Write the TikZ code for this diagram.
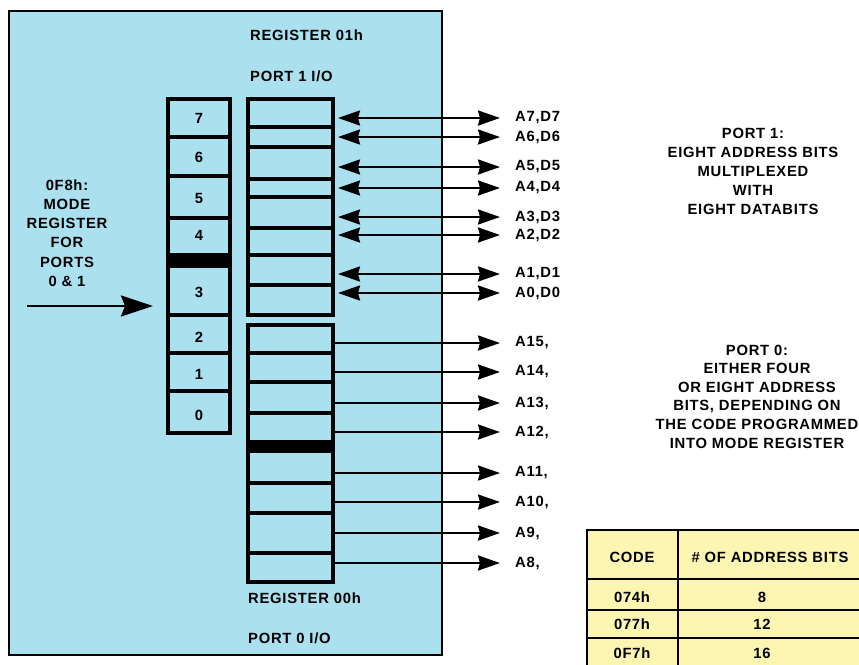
\documentclass[tikz,border=0pt]{standalone}
\usepackage{fontspec}
\setmainfont{Liberation Sans}[LetterSpace=5]
\usetikzlibrary{arrows.meta, positioning}
\definecolor{panelblue}{HTML}{ABE1EE}
\definecolor{tableyellow}{HTML}{FCF6B2}
\tikzset{
   lbl/.style={font=\fontsize{14.8}{19.2}\selectfont\bfseries, inner sep=0pt},
   regbox/.style={line width=3.4pt},
   bus/.style={line width=2.3pt},
   bustip/.tip={Stealth[length=22pt,width=15pt,inset=2pt]},
   bigtip/.tip={Stealth[length=32pt,width=21pt,inset=4pt]}
}
\begin{document}
\begin{tikzpicture}[x=1pt, y=-1pt]
   \useasboundingbox (0,0) rectangle (859,664);
   % Panel
   \draw[line width=2.8pt, fill=panelblue] (9,11) rectangle (442,655);
   \node[lbl, anchor=west] (reg01) at (250,35) {REGISTER 01h};
   \node[lbl, anchor=west] (port1io) at (250,76) {PORT 1 I/O};
   \node[lbl, anchor=west] (reg00) at (248,598) {REGISTER 00h};
   \node[lbl, anchor=west] (port0io) at (248,638) {PORT 0 I/O};
   % Mode register (bits 7..0)
   \draw[regbox] (168,99) rectangle (230,433);
   \foreach \y in {137,176,218,315,353,391}
      \draw[regbox] (168,\y) -- (230,\y);
   \fill (168,253) rectangle (230,268);
   \foreach \y/\b in {118/7,157/6,198/5,235/4,292/3,337/2,374/1,415/0}
      \node[lbl] (bit\b) at (199,\y) {\b};
   \node[lbl, align=center] (modetxt) at (67,233)
      {0F8h:\\MODE\\REGISTER\\FOR\\PORTS\\0 \& 1};
   \coordinate (modein) at (27,306);
   \coordinate (modetip) at (153,306);
   \draw[line width=2.6pt, -bigtip] (modein) -- (modetip);
   % Port 1 register
   \draw[regbox] (248,99) rectangle (333,315);
   \foreach \y in {127,147,179,197,228,255,285}
      \draw[regbox] (248,\y) -- (333,\y);
   % Port 0 register
   \draw[regbox] (248,325) rectangle (333,582);
   \foreach \y in {353,382,413,483,513,553}
      \draw[regbox] (248,\y) -- (333,\y);
   \fill (248,440) rectangle (333,453);
   % Port 1 lines (both ways)
   \foreach \y/\n in {118/7,137/6,167/5,188/4,217/3,235/2,274/1,293/0} {
      \coordinate (hi\n) at (333,\y);
      \node[lbl, anchor=west] (ad\n) at (515,\y) {A\n,D\n};
      \draw[bus, bustip-bustip, shorten <=5pt, shorten >=15pt] (hi\n) -- (ad\n.west);
   }
   % Port 0 lines (out)
   \foreach \y/\n in {343/15,372/14,403/13,432/12,473/11,502/10,533/9,563/8} {
      \coordinate (lo\n) at (333,\y);
      \node[lbl, anchor=west] (a\n) at (515,\y) {A\n,};
      \draw[bus, -bustip, shorten >=15pt] (lo\n) -- (a\n.west);
   }
   % Notes
   \node[lbl, align=center] (port1txt) at (753,171.5)
      {PORT 1:\\EIGHT ADDRESS BITS\\MULTIPLEXED\\WITH\\EIGHT DATABITS};
   \node[lbl, align=center, font=\fontsize{14.8}{18.6}\selectfont\bfseries] (port0txt) at (757,396.5)
      {PORT 0:\\EITHER FOUR\\OR EIGHT ADDRESS\\BITS, DEPENDING ON\\THE CODE PROGRAMMED\\INTO MODE REGISTER};
   % Code table
   \draw[line width=2.8pt, fill=tableyellow] (587,530) rectangle (875,680);
   \draw[line width=2.8pt] (678,530) -- (678,680);
   \foreach \y in {579,610,638}
      \draw[line width=2.8pt] (587,\y) -- (875,\y);
   \node[lbl] (hcode) at (632,557) {CODE};
   \node[lbl] (hbits) at (770,557) {\# OF ADDRESS BITS};
   \foreach \y/\c/\w in {597/074h/8,624/077h/12,653/0F7h/16} {
      \node[lbl] (c\c) at (632,\y) {\c};
      \node[lbl] (w\c) at (762,\y) {\w};
   }
\end{tikzpicture}
\end{document}
